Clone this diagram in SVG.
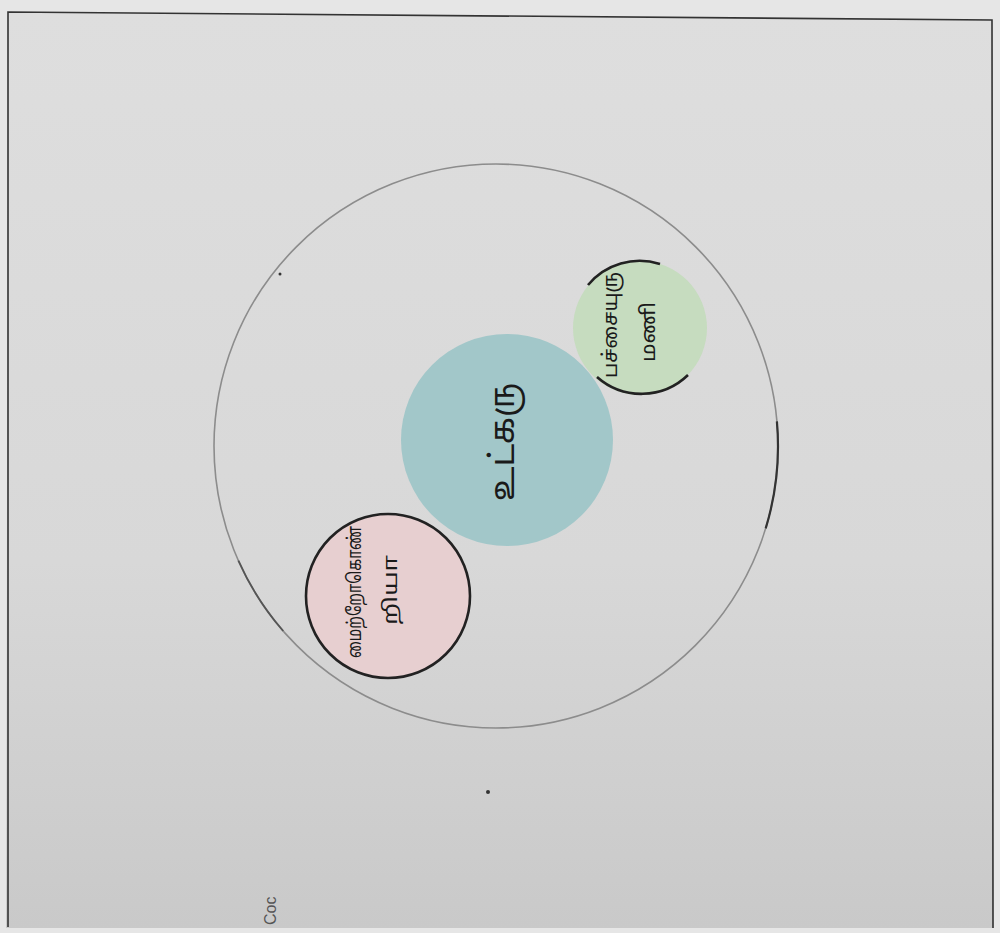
<svg xmlns="http://www.w3.org/2000/svg" width="1000" height="933" viewBox="0 0 1000 933">
  <defs>
    <linearGradient id="paper" x1="0" y1="0" x2="0" y2="1">
      <stop offset="0" stop-color="#dedede"/>
      <stop offset="0.6" stop-color="#d8d8d8"/>
      <stop offset="1" stop-color="#c9c9c9"/>
    </linearGradient>
    <style>
      .lbl { font-family: "Noto Sans Tamil", "Latha", "Lohit Tamil", "Noto Sans", sans-serif; fill: #1a1a1a; text-anchor: middle; dominant-baseline: central; }
      .orbit { fill: none; stroke: #8c8c8c; stroke-width: 1.6; }
      .dark { fill: none; stroke: #222; stroke-width: 2.6; }
    </style>
  </defs>
  <rect x="0" y="0" width="1000" height="933" fill="#e6e6e6"/>
  <polygon points="8,12 992,20 994,928 6,928" fill="url(#paper)"/>
  <g id="frame" fill="none" stroke="#333" stroke-width="1.6">
    <polyline points="8,927 8,12 992,20 993,928"/>
  </g>

  <g id="outer-circle">
    <circle cx="496" cy="446" r="282" class="orbit"/>
    <path d="M 776.9 421.4 A 282 282 0 0 1 765.7 528.4" fill="none" stroke="#333" stroke-width="2.2"/>
    <path d="M 238.4 560.7 A 282 282 0 0 0 283.2 631" fill="none" stroke="#555" stroke-width="1.8"/>
  </g>

  <g id="center-node">
    <circle cx="507" cy="440" r="106" fill="#a2c7c9"/>
    <text class="lbl" font-size="34" textLength="118" lengthAdjust="spacingAndGlyphs" transform="translate(505,442) rotate(-90)">உட்கரு</text>
  </g>

  <g id="green-node">
    <circle cx="640" cy="328" r="67" fill="#c6dcbf"/>
    <path d="M 597 377 A 67 67 0 0 0 688 375" class="dark"/>
    <path d="M 588 285 A 67 67 0 0 1 660 264" class="dark" stroke-width="1.8"/>
    <text class="lbl" font-size="20" textLength="106" lengthAdjust="spacingAndGlyphs" transform="translate(612,325) rotate(-90)">பச்சையுரு</text>
    <text class="lbl" font-size="20" textLength="60" lengthAdjust="spacingAndGlyphs" transform="translate(650,332) rotate(-90)">மணி</text>
  </g>

  <g id="pink-node">
    <circle cx="388" cy="596" r="82" fill="#e7cfd0"/>
    <circle cx="388" cy="596" r="82" class="dark"/>
    <text class="lbl" font-size="19" textLength="132" lengthAdjust="spacingAndGlyphs" transform="translate(356,592) rotate(-90)">மைற்றோகொண்</text>
    <text class="lbl" font-size="19" textLength="70" lengthAdjust="spacingAndGlyphs" transform="translate(392,590) rotate(-90)">றியா</text>
  </g>

  <g id="marks" fill="#333">
    <circle cx="280" cy="274" r="1.5"/>
    <circle cx="488" cy="792" r="2"/>
    <text font-family="Liberation Sans, sans-serif" font-size="16" fill="#555" transform="translate(276,925) rotate(-90)">Coc</text>
  </g>
</svg>
